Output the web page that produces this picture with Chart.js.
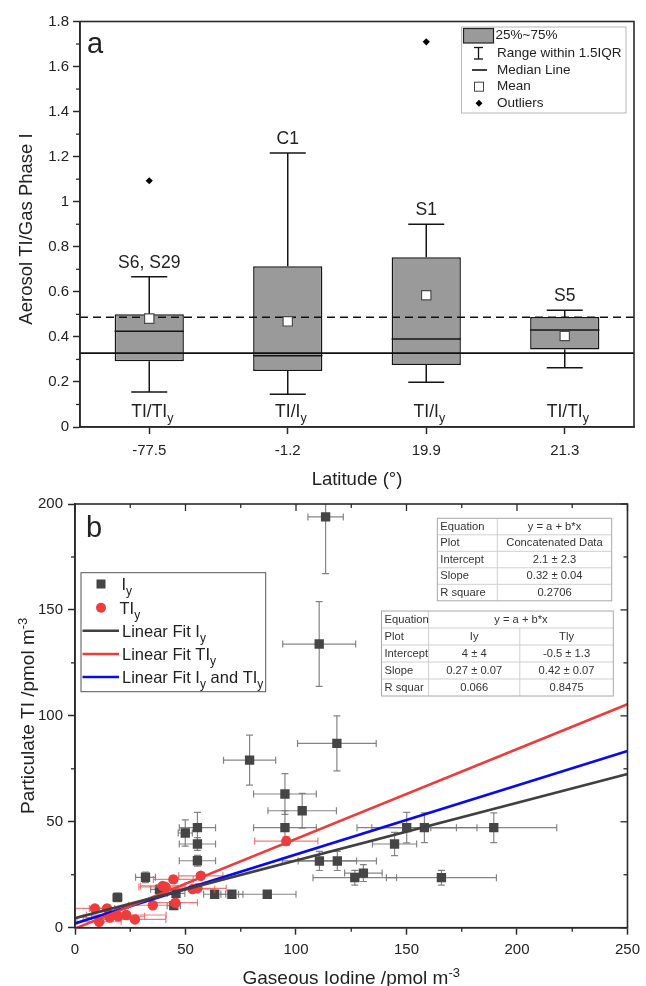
<!DOCTYPE html>
<html><head><meta charset="utf-8">
<script src="https://cdn.jsdelivr.net/npm/chart.js@4.4.1/dist/chart.umd.min.js"></script>
<style>
html,body{margin:0;padding:0;background:#fff;}
#wrap{position:relative;width:646px;height:986px;overflow:hidden;}
.pa{position:absolute;left:0;top:0;width:646px;height:490px;}
.pb{position:absolute;left:0;top:490px;width:646px;height:496px;}
</style></head><body>
<div id="wrap">
<div class="pa"><canvas id="ca" width="646" height="490"></canvas></div>
<div class="pb"><canvas id="cb" width="646" height="496"></canvas></div>
</div>
<script>
// ---------- Panel a data ----------
const latitudes   = ['-77.5', '-1.2', '19.9', '21.3'];
const whiskerLow  = [0.155, 0.145, 0.199, 0.263];
const quart1      = [0.292, 0.249, 0.275, 0.344];
const medians     = [0.425, 0.316, 0.391, 0.431];
const quart3      = [0.500, 0.714, 0.753, 0.488];
const whiskerHigh = [0.667, 1.216, 0.900, 0.518];
const means       = [0.481, 0.469, 0.585, 0.404];
const outliers    = [1.093, null, 1.710, null];
const siteLabels  = ['S6, S29', 'C1', 'S1', 'S5'];
const ratioLabels = ['TI/TI', 'TI/I', 'TI/I', 'TI/TI'];
const ratioSub    = 'y';
const overallMedian = 0.328;
const overallMean   = 0.487;
const yTicksA = [0, 0.2, 0.4, 0.6, 0.8, 1, 1.2, 1.4, 1.6, 1.8];

// ---------- Panel b data ----------
const iyX    = [113.4, 110.5, 118.5, 79.0, 95.0, 102.8, 95.0, 55.4, 49.9, 55.4, 55.4, 31.9, 19.2, 63.2, 71.0, 87.0, 44.7, 38.2, 45.7, 150.1, 158.1, 189.5, 144.6, 110.6, 118.7, 126.6, 130.5, 165.8];
const iyY    = [193.9, 133.9, 87.0, 79.1, 63.1, 55.2, 47.2, 47.2, 44.7, 39.5, 31.6, 23.8, 14.3, 15.8, 15.8, 15.8, 10.4, 18.1, 16.2, 47.2, 47.2, 47.2, 39.5, 31.5, 31.5, 23.6, 25.8, 23.6];
const iyXErr = [8.0, 16.5, 17.8, 11.8, 14.2, 15.5, 14.2, 8.2, 3.2, 8.2, 8.2, 4.5, 2.0, 5.0, 5.0, 13.0, 3.0, 4.0, 4.0, 22.5, 23.8, 28.5, 10.0, 16.8, 17.7, 18.9, 8.5, 24.9];
const iyYErr = [26.8, 20.0, 13.0, 11.8, 9.6, 8.2, 8.0, 7.2, 6.2, 3.0, 2.5, 2.5, 2.0, 1.5, 1.5, 1.5, 1.5, 2.0, 2.0, 7.2, 7.0, 7.0, 5.5, 4.5, 4.5, 3.5, 4.0, 3.5];

const tiyX    = [95.6, 56.9, 44.5, 39.7, 40.9, 53.2, 55.4, 45.4, 35.2, 9.0, 14.5, 10.9, 15.7, 19.5, 23.2, 27.1];
const tiyY    = [40.9, 24.5, 22.8, 19.7, 19.2, 18.2, 18.6, 11.8, 10.6, 9.1, 9.1, 2.8, 4.8, 5.4, 6.0, 3.9];
const tiyXErr = [14.3, 10.0, 9.0, 10.0, 12.0, 10.0, 13.0, 10.0, 11.0, 9.0, 8.0, 10.0, 12.0, 12.0, 18.0, 14.0];
const tiyYErr = [2.0, 1.5, 1.5, 1.5, 1.5, 1.5, 1.5, 1.5, 1.5, 1.0, 1.0, 1.0, 1.0, 1.0, 1.0, 1.0];

const fitX      = [0, 250];
const fitIyY    = [4.5, 72.6];
const fitTIyY   = [-0.4, 105.5];
const fitAllY   = [2.0, 83.4];

const table1 = [['Equation', 'y = a + b*x'], ['Plot', 'Concatenated Data'], ['Intercept', '2.1 \u00b1 2.3'], ['Slope', '0.32 \u00b1 0.04'], ['R square', '0.2706']];
const table2 = [['Equation', 'y = a + b*x'], ['Plot', 'Iy', 'Tly'], ['Intercept', '4 \u00b1 4', '-0.5 \u00b1 1.3'], ['Slope', '0.27 \u00b1 0.07', '0.42 \u00b1 0.07'], ['R squar', '0.066', '0.8475']];

// ---------- helpers ----------
const FAM = '"Liberation Sans", Arial, Helvetica, sans-serif';
const F = s => s + 'px ' + FAM;
const INK = '#222';
const AX = '#2a2a2a';

function rich(ctx, parts, x, y, align) {
  let total = 0;
  parts.forEach(p => { ctx.font = F(p.s); p.w = ctx.measureText(p.t).width; total += p.w; });
  let sx = align === 'center' ? x - total / 2 : (align === 'right' ? x - total : x);
  ctx.textAlign = 'left';
  parts.forEach(p => { ctx.font = F(p.s); ctx.fillText(p.t, sx, y + (p.dy || 0)); sx += p.w; });
}
function line(ctx, x1, y1, x2, y2) { ctx.beginPath(); ctx.moveTo(x1, y1); ctx.lineTo(x2, y2); ctx.stroke(); }

Chart.defaults.font.family = FAM;
Chart.defaults.color = INK;

// ================= PANEL A =================
const plugA = {
  id: 'plugA',
  afterDatasetDraw(chart, args) {
    if (args.index !== 0) return;
    const ctx = chart.ctx, ys = chart.scales.y, ca = chart.chartArea;
    const meta = chart.getDatasetMeta(0);
    ctx.save();
    ctx.strokeStyle = '#151515'; ctx.lineWidth = 1.5;
    meta.data.forEach((bar, i) => {
      const cx = bar.x, half = bar.width / 2, cap = bar.width * 0.26;
      const pHi = ys.getPixelForValue(whiskerHigh[i]), pLo = ys.getPixelForValue(whiskerLow[i]);
      const pQ1 = ys.getPixelForValue(quart1[i]), pQ3 = ys.getPixelForValue(quart3[i]);
      const pM = ys.getPixelForValue(medians[i]);
      line(ctx, cx, pQ3, cx, pHi); line(ctx, cx - cap, pHi, cx + cap, pHi);
      line(ctx, cx, pQ1, cx, pLo); line(ctx, cx - cap, pLo, cx + cap, pLo);
      line(ctx, cx - half, pM, cx + half, pM);
    });
    // overall reference lines
    ctx.strokeStyle = '#111'; ctx.lineWidth = 1.6;
    const pMed = ys.getPixelForValue(overallMedian);
    line(ctx, ca.left, pMed, ca.right, pMed);
    ctx.setLineDash([8, 5]);
    const pMean = ys.getPixelForValue(overallMean);
    line(ctx, ca.left, pMean, ca.right, pMean);
    ctx.restore();
  },
  afterDraw(chart) {
    const ctx = chart.ctx, ys = chart.scales.y, ca = chart.chartArea;
    const meta = chart.getDatasetMeta(0);
    ctx.save();
    // frame
    ctx.strokeStyle = AX; ctx.lineWidth = 1.6;
    ctx.strokeRect(ca.left, ca.top, ca.right - ca.left, ca.bottom - ca.top);
    // minor y ticks
    ctx.lineWidth = 1.3;
    for (let k = 0; k < yTicksA.length - 1; k++) {
      const v = (yTicksA[k] + yTicksA[k + 1]) / 2;
      const p = ys.getPixelForValue(v);
      line(ctx, ca.left - 4, p, ca.left, p);
    }
    // labels above whiskers and ratio labels at bottom
    ctx.fillStyle = INK;
    meta.data.forEach((bar, i) => {
      const cx = bar.x;
      const top = ys.getPixelForValue(whiskerHigh[i]);
      ctx.font = F(17.5); ctx.textAlign = 'center'; ctx.textBaseline = 'middle';
      ctx.fillText(siteLabels[i], cx, top - 14);
      ctx.textBaseline = 'alphabetic';
      ctx.font = F(17.5);
      const w = ctx.measureText(ratioLabels[i]).width;
      rich(ctx, [{t: ratioLabels[i], s: 17.5}, {t: ratioSub, s: 12.5, dy: 5}], cx - w / 2, ca.bottom - 10.5, 'left');
    });
    // panel letter
    ctx.font = F(29); ctx.textAlign = 'left'; ctx.textBaseline = 'alphabetic';
    ctx.fillText('a', 87, 53);
    // axis titles
    ctx.font = F(18.5); ctx.textAlign = 'center'; ctx.textBaseline = 'middle';
    ctx.fillText('Latitude (\u00b0)', (ca.left + ca.right) / 2, 480);
    ctx.save();
    ctx.translate(27, 229); ctx.rotate(-Math.PI / 2);
    ctx.fillText('Aerosol TI/Gas Phase I', 0, 0);
    ctx.restore();
    // legend
    const lx = 461.5, ly = 27;
    ctx.fillStyle = '#fff'; ctx.fillRect(lx, ly, 164.5, 86);
    ctx.strokeStyle = '#b8b8b8'; ctx.lineWidth = 1; ctx.strokeRect(lx, ly, 164.5, 86);
    const rows = [35.5, 53, 70, 86.7, 103.3];
    // swatch
    ctx.fillStyle = '#9a9a9a'; ctx.fillRect(463.5, 28.5, 30, 14.5);
    ctx.strokeStyle = '#222'; ctx.lineWidth = 1.2; ctx.strokeRect(463.5, 28.5, 30, 14.5);
    // range icon
    ctx.lineWidth = 1.3; ctx.strokeStyle = '#111';
    line(ctx, 478.5, 47.5, 478.5, 59); line(ctx, 474, 47.5, 483, 47.5); line(ctx, 474, 59, 483, 59);
    // median line icon
    ctx.lineWidth = 1.6; line(ctx, 472, rows[2], 487, rows[2]);
    // mean icon
    ctx.fillStyle = '#fff'; ctx.fillRect(474.5, rows[3] - 4.5, 9, 9);
    ctx.strokeStyle = '#444'; ctx.lineWidth = 1; ctx.strokeRect(474.5, rows[3] - 4.5, 9, 9);
    // outlier icon
    ctx.fillStyle = '#000'; ctx.beginPath();
    ctx.moveTo(479, rows[4] - 3.5); ctx.lineTo(482.5, rows[4]); ctx.lineTo(479, rows[4] + 3.5); ctx.lineTo(475.5, rows[4]); ctx.closePath(); ctx.fill();
    ctx.fillStyle = INK; ctx.font = F(13.5); ctx.textAlign = 'left'; ctx.textBaseline = 'middle';
    ['25%~75%', 'Range within 1.5IQR', 'Median Line', 'Mean', 'Outliers'].forEach((t, i) => ctx.fillText(t, i === 0 ? 495.5 : 497, rows[i]));
    ctx.restore();
  }
};

new Chart(document.getElementById('ca'), {
  type: 'bar',
  data: {
    labels: latitudes,
    datasets: [
      { type: 'bar', data: quart1.map((q, i) => [q, quart3[i]]), backgroundColor: '#9a9a9a', borderColor: '#151515', borderWidth: 1.5, borderSkipped: false, barPercentage: 0.5, categoryPercentage: 1.0, order: 3 },
      { type: 'line', data: means, showLine: false, pointStyle: 'rect', pointRadius: 6.6, pointBackgroundColor: '#ffffff', pointBorderColor: '#4a4a4a', pointBorderWidth: 1.2, order: 1 },
      { type: 'line', data: outliers, showLine: false, pointStyle: 'rectRot', pointRadius: 3.6, pointBackgroundColor: '#000', pointBorderColor: '#000', pointBorderWidth: 0, order: 2 }
    ]
  },
  options: {
    responsive: false, animation: false, events: [],
    layout: { padding: { left: 0, top: 21.5, right: 12, bottom: 0 } },
    plugins: { legend: { display: false }, tooltip: { enabled: false } },
    scales: {
      x: {
        offset: true,
        grid: { display: true, offset: false, drawOnChartArea: false, drawTicks: true, tickLength: 7, tickWidth: 1.5, tickColor: AX },
        border: { display: true, color: AX, width: 1.6 },
        ticks: { font: { size: 15 }, color: INK, padding: 8, maxRotation: 0 },
        afterFit: s => { s.height = 63; }
      },
      y: {
        min: 0, max: 1.8,
        afterBuildTicks: s => { s.ticks = yTicksA.map(v => ({ value: v })); },
        grid: { display: true, drawOnChartArea: false, drawTicks: true, tickLength: 7, tickWidth: 1.5, tickColor: AX },
        border: { display: true, color: AX, width: 1.6 },
        ticks: { font: { size: 15 }, color: INK, padding: 4, callback: v => String(Math.round(v * 10) / 10) },
        afterFit: s => { s.width = 80; }
      }
    }
  },
  plugins: [plugA]
});

// ================= PANEL B =================
function drawErr(chart, xs, ys, xe, ye, color) {
  const ctx = chart.ctx, sx = chart.scales.x, sy = chart.scales.y, ca = chart.chartArea;
  ctx.save();
  ctx.beginPath(); ctx.rect(ca.left, ca.top, ca.right - ca.left, ca.bottom - ca.top); ctx.clip();
  ctx.strokeStyle = color; ctx.lineWidth = 1.2;
  for (let i = 0; i < xs.length; i++) {
    const px = sx.getPixelForValue(xs[i]), py = sy.getPixelForValue(ys[i]);
    const x1 = sx.getPixelForValue(xs[i] - xe[i]), x2 = sx.getPixelForValue(xs[i] + xe[i]);
    const y1 = sy.getPixelForValue(ys[i] - ye[i]), y2 = sy.getPixelForValue(ys[i] + ye[i]);
    line(ctx, x1, py, x2, py); line(ctx, x1, py - 3.5, x1, py + 3.5); line(ctx, x2, py - 3.5, x2, py + 3.5);
    line(ctx, px, y1, px, y2); line(ctx, px - 3.5, y1, px + 3.5, y1); line(ctx, px - 3.5, y2, px + 3.5, y2);
  }
  ctx.restore();
}
function drawTable(ctx, cols, top, rh, rows, merged) {
  const w = cols[cols.length - 1] - cols[0], h = rh * rows.length;
  ctx.fillStyle = '#fff'; ctx.fillRect(cols[0], top, w, h);
  ctx.strokeStyle = '#cfcfcf'; ctx.lineWidth = 1;
  for (let r = 1; r < rows.length; r++) line(ctx, cols[0], top + r * rh, cols[cols.length - 1], top + r * rh);
  for (let c = 1; c < cols.length - 1; c++) {
    for (let r = 0; r < rows.length; r++) {
      if (merged && r === 0 && c > 1) continue;
      line(ctx, cols[c], top + r * rh, cols[c], top + (r + 1) * rh);
    }
  }
  ctx.strokeStyle = '#a8a8a8'; ctx.strokeRect(cols[0], top, w, h);
  ctx.fillStyle = '#333'; ctx.font = F(11.2); ctx.textBaseline = 'middle';
  rows.forEach((row, r) => {
    const cy = top + r * rh + rh / 2;
    ctx.textAlign = 'left'; ctx.fillText(row[0], cols[0] + 3, cy);
    ctx.textAlign = 'center';
    if (row.length === 2) {
      const c2 = merged ? cols[cols.length - 1] : cols[2];
      ctx.fillText(row[1], (cols[1] + c2) / 2, cy);
    } else {
      for (let c = 1; c < row.length; c++) ctx.fillText(row[c], (cols[c] + cols[c + 1]) / 2, cy);
    }
  });
}

const plugB = {
  id: 'plugB',
  beforeDatasetDraw(chart, args) {
    if (args.index === 3) drawErr(chart, iyX, iyY, iyXErr, iyYErr, 'rgba(120,120,120,0.9)');
    if (args.index === 4) drawErr(chart, tiyX, tiyY, tiyXErr, tiyYErr, 'rgba(238,90,90,0.8)');
  },
  afterDraw(chart) {
    const ctx = chart.ctx, sx = chart.scales.x, sy = chart.scales.y, ca = chart.chartArea;
    ctx.save();
    ctx.strokeStyle = AX; ctx.lineWidth = 1.6;
    ctx.strokeRect(ca.left, ca.top, ca.right - ca.left, ca.bottom - ca.top);
    ctx.lineWidth = 1.3;
    for (let v = 0; v <= 250; v += 25) {
      const p = sx.getPixelForValue(v), major = v % 50 === 0;
      line(ctx, p, ca.top, p, ca.top + (major ? 7 : 4));
      if (!major) line(ctx, p, ca.bottom, p, ca.bottom + 4);
    }
    for (let v = 0; v <= 200; v += 25) {
      const p = sy.getPixelForValue(v), major = v % 50 === 0;
      line(ctx, ca.right, p, ca.right - (major ? 7 : 4), p);
      if (!major) line(ctx, ca.left, p, ca.left - 4, p);
    }
    // letter
    ctx.fillStyle = INK; ctx.font = F(29); ctx.textAlign = 'left'; ctx.textBaseline = 'alphabetic';
    ctx.fillText('b', 86, 46.7);
    // axis titles
    ctx.textBaseline = 'alphabetic';
    rich(ctx, [{t: 'Gaseous Iodine /pmol m', s: 19}, {t: '-3', s: 13, dy: -7}], (ca.left + ca.right) / 2, 494, 'center');
    ctx.save();
    ctx.translate(34, (ca.top + ca.bottom) / 2); ctx.rotate(-Math.PI / 2);
    rich(ctx, [{t: 'Particulate TI /pmol m', s: 19}, {t: '-3', s: 13, dy: -7}], 0, 0, 'center');
    ctx.restore();
    // legend
    ctx.fillStyle = '#fff'; ctx.fillRect(81, 82.7, 184.7, 119);
    ctx.strokeStyle = '#555'; ctx.lineWidth = 1; ctx.strokeRect(81, 82.7, 184.7, 119);
    const rows = [94, 117.7, 140.7, 164, 187];
    ctx.fillStyle = '#454545'; ctx.fillRect(96.5, rows[0] - 4.5, 9, 9);
    ctx.fillStyle = '#ee3b3b'; ctx.beginPath(); ctx.arc(101, rows[1], 5, 0, Math.PI * 2); ctx.fill();
    ctx.lineWidth = 2.5;
    ctx.strokeStyle = '#404040'; line(ctx, 82.5, rows[2], 119, rows[2]);
    ctx.strokeStyle = '#ee3b3b'; line(ctx, 82.5, rows[3], 119, rows[3]);
    ctx.strokeStyle = '#0a0aee'; line(ctx, 82.5, rows[4], 119, rows[4]);
    ctx.fillStyle = INK; ctx.textBaseline = 'alphabetic';
    const b = 6, fs = 16.5, ss = 12;
    rich(ctx, [{t: 'I', s: fs}, {t: 'y', s: ss, dy: 5}], 121.5, rows[0] + b, 'left');
    rich(ctx, [{t: 'TI', s: fs}, {t: 'y', s: ss, dy: 5}], 119.5, rows[1] + b, 'left');
    rich(ctx, [{t: 'Linear Fit I', s: fs}, {t: 'y', s: ss, dy: 5}], 122, rows[2] + b, 'left');
    rich(ctx, [{t: 'Linear Fit TI', s: fs}, {t: 'y', s: ss, dy: 5}], 122, rows[3] + b, 'left');
    rich(ctx, [{t: 'Linear Fit I', s: fs}, {t: 'y', s: ss, dy: 5}, {t: ' and TI', s: fs}, {t: 'y', s: ss, dy: 5}], 122, rows[4] + b, 'left');
    // tables
    drawTable(ctx, [437.3, 497.3, 611.7], 28.3, 16.5, table1, false);
    drawTable(ctx, [381.5, 428.6, 519.8, 613.3], 121, 17, table2, true);
    ctx.restore();
  }
};

const pts = (xs, ys) => xs.map((x, i) => ({ x: x, y: ys[i] }));
new Chart(document.getElementById('cb'), {
  type: 'scatter',
  data: {
    datasets: [
      { data: pts(fitX, fitIyY), showLine: true, borderColor: '#404040', borderWidth: 2.6, pointRadius: 0, order: 0 },
      { data: pts(fitX, fitTIyY), showLine: true, borderColor: '#ee3b3b', borderWidth: 2.6, pointRadius: 0, order: 0 },
      { data: pts(fitX, fitAllY), showLine: true, borderColor: '#0a0aee', borderWidth: 2.6, pointRadius: 0, order: 0 },
      { data: pts(iyX, iyY), pointStyle: 'rect', pointRadius: 6.6, backgroundColor: '#454545', borderColor: '#454545', borderWidth: 0, order: 2 },
      { data: pts(tiyX, tiyY), pointStyle: 'circle', pointRadius: 5.2, backgroundColor: '#ee3b3b', borderColor: '#ee3b3b', borderWidth: 0, order: 1 }
    ]
  },
  options: {
    responsive: false, animation: false, events: [],
    layout: { padding: { left: 0, top: 12.3, right: 14.3, bottom: 0 } },
    plugins: { legend: { display: false }, tooltip: { enabled: false } },
    scales: {
      x: {
        type: 'linear', min: 0, max: 250,
        ticks: { stepSize: 50, font: { size: 15 }, color: INK, padding: 6, maxRotation: 0 },
        grid: { display: true, drawOnChartArea: false, drawTicks: true, tickLength: 7, tickWidth: 1.5, tickColor: AX },
        border: { display: true, color: AX, width: 1.6 },
        afterFit: s => { s.height = 58.3; }
      },
      y: {
        type: 'linear', min: 0, max: 200,
        ticks: { stepSize: 50, font: { size: 15 }, color: INK, padding: 5 },
        grid: { display: true, drawOnChartArea: false, drawTicks: true, tickLength: 7, tickWidth: 1.5, tickColor: AX },
        border: { display: true, color: AX, width: 1.6 },
        afterFit: s => { s.width = 75; }
      }
    }
  },
  plugins: [plugB]
});
</script>
</body></html>
